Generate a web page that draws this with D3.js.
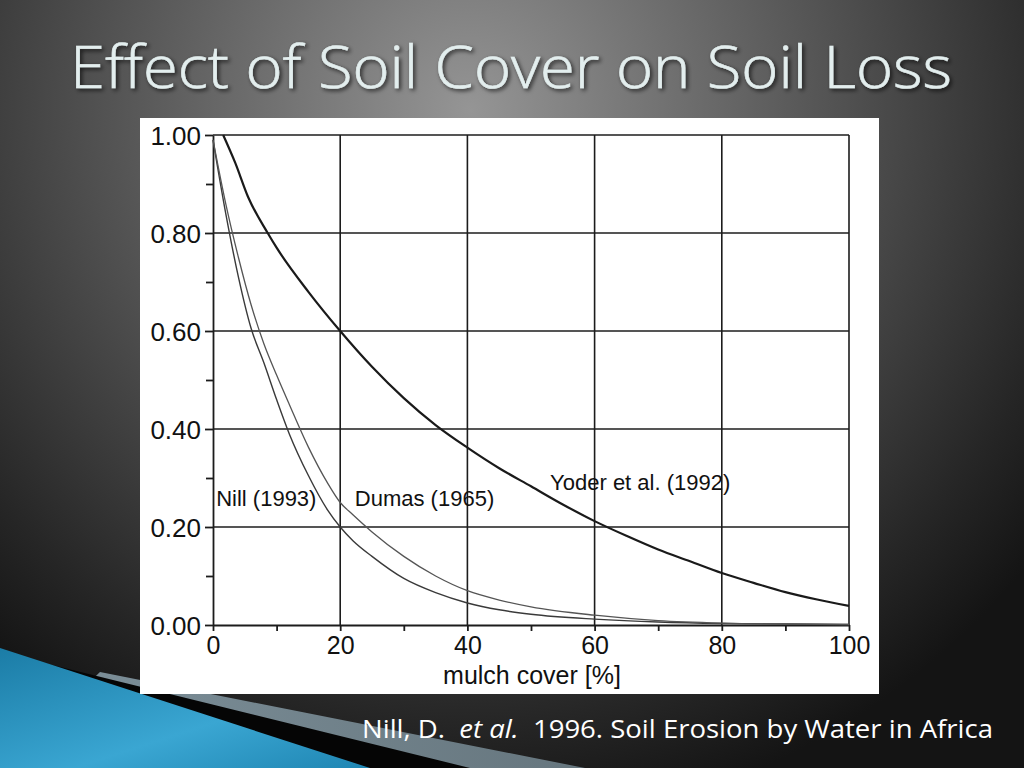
<!DOCTYPE html>
<html><head><meta charset="utf-8">
<script src="https://cdn.jsdelivr.net/npm/d3@7"></script>
<style>html,body{margin:0;padding:0;background:#222;}svg{display:block;}
.ttl{font-feature-settings:"liga" 0,"clig" 0;font-variant-ligatures:none;}</style>
</head><body>
<svg id="c" width="1024" height="768"></svg>
<script>
// ---- data ----
const titleText = "Effect of Soil Cover on Soil Loss";
const xLabel = "mulch cover [%]";
const xTicks = [0, 20, 40, 60, 80, 100];
const xMinor = [10, 30, 50, 70, 90];
const yTicks = [0, 0.2, 0.4, 0.6, 0.8, 1.0];
const yMinor = [0.1, 0.3, 0.5, 0.7, 0.9];

const yoderX = [1.6, 3.5, 5.5, 8.6, 10, 15, 20, 25, 30, 35, 40, 45, 50, 55, 60, 65, 70, 75, 80, 85, 90, 95, 100];
const yoderY = [1.0, 0.943, 0.874, 0.8, 0.77, 0.68, 0.60, 0.527, 0.463, 0.408, 0.362, 0.32, 0.283, 0.246, 0.212, 0.182, 0.154, 0.13, 0.106, 0.086, 0.067, 0.052, 0.039];

const coverX = [0, 2, 4, 6, 8, 10, 12, 15, 18, 20, 22, 25, 30, 35, 40, 45, 50, 60, 70, 80, 90, 100];
const nillY  = [0.99, 0.84, 0.71, 0.605, 0.535, 0.46, 0.39, 0.305, 0.235, 0.2, 0.172, 0.14, 0.095, 0.066, 0.045, 0.031, 0.022, 0.012, 0.006, 0.003, 0.002, 0.001];
const dumasY = [0.99, 0.86, 0.75, 0.653, 0.574, 0.51, 0.45, 0.363, 0.29, 0.25, 0.225, 0.19, 0.14, 0.1, 0.07, 0.051, 0.037, 0.02, 0.009, 0.004, 0.002, 0.001];

const seriesLabels = ["Nill (1993)", "Dumas (1965)", "Yoder et al. (1992)"];
const labelX = [0.5, 22.3, 53];
const labelY = [0.243, 0.243, 0.276];

// ---- drawing ----
const svg = d3.select("#c");
const defs = svg.append("defs");
const bg = defs.append("radialGradient").attr("id", "bg")
  .attr("gradientUnits", "userSpaceOnUse").attr("cx", 470).attr("cy", 110).attr("r", 720);
bg.append("stop").attr("offset", 0).attr("stop-color", "#959595");
bg.append("stop").attr("offset", 0.45).attr("stop-color", "#5a5a5a");
bg.append("stop").attr("offset", 0.85).attr("stop-color", "#262626");
bg.append("stop").attr("offset", 1).attr("stop-color", "#141414");
const blue = defs.append("linearGradient").attr("id", "blue")
  .attr("x1", 0).attr("y1", 0).attr("x2", 1).attr("y2", 1);
blue.append("stop").attr("offset", 0).attr("stop-color", "#1b7ca6");
blue.append("stop").attr("offset", 0.6).attr("stop-color", "#3aa6d2");
blue.append("stop").attr("offset", 1).attr("stop-color", "#1f86b3");
const band = defs.append("linearGradient").attr("id", "band")
  .attr("x1", 0).attr("y1", 0).attr("x2", 1).attr("y2", 0);
band.append("stop").attr("offset", 0).attr("stop-color", "#7f929c");
band.append("stop").attr("offset", 1).attr("stop-color", "#66767e");
const sh = defs.append("filter").attr("id", "sh").attr("x", "-5%").attr("y", "-20%").attr("width", "110%").attr("height", "140%");
sh.append("feDropShadow").attr("dx", 2).attr("dy", 2).attr("stdDeviation", 2).attr("flood-color", "#000").attr("flood-opacity", 0.7);

svg.append("rect").attr("width", 1024).attr("height", 768).attr("fill", "url(#bg)");

// bottom-left decoration
svg.append("polygon").attr("points", "100,672 585,768 0,768").attr("fill", "url(#band)");
svg.append("polygon").attr("points", "40,662 470,768 0,768").attr("fill", "#050505");
svg.append("polygon").attr("points", "0,648 370,768 0,768").attr("fill", "url(#blue)");

// title
svg.append("text").attr("class", "ttl").attr("x", 70).attr("y", 88)
  .attr("font-family", "'Open Sans', Lato, sans-serif").attr("font-size", 58).attr("font-weight", 300)
  .attr("fill", "#e3eeee").attr("stroke", "#e3eeee").attr("stroke-width", 0.6)
  .attr("textLength", 882).attr("lengthAdjust", "spacingAndGlyphs")
  .attr("filter", "url(#sh)").text(titleText);

// caption
const cap = svg.append("text").attr("x", 362).attr("y", 738)
  .attr("font-family", "'Open Sans', Lato, sans-serif").attr("font-size", 25)
  .style("white-space", "pre")
  .attr("fill", "#ffffff").attr("textLength", 631).attr("lengthAdjust", "spacingAndGlyphs");
cap.append("tspan").text("Nill, D.  ");
cap.append("tspan").attr("font-style", "italic").text("et al.");
cap.append("tspan").text("  1996. Soil Erosion by Water in Africa");

// white panel
svg.append("rect").attr("x", 140).attr("y", 118).attr("width", 739).attr("height", 576).attr("fill", "#ffffff");

const x = d3.scaleLinear().domain([0, 100]).range([213, 849]);
const y = d3.scaleLinear().domain([0, 1]).range([625, 135]);
const ink = "#1c1c1c";
const font = "'Liberation Sans', Arial, sans-serif";

const g = svg.append("g");
// grid
g.selectAll(".gx").data(xTicks.slice(1)).join("line")
  .attr("x1", d => x(d)).attr("x2", d => x(d)).attr("y1", y(0)).attr("y2", y(1))
  .attr("stroke", ink).attr("stroke-width", 1.6);
g.selectAll(".gy").data(yTicks.slice(1)).join("line")
  .attr("y1", d => y(d)).attr("y2", d => y(d)).attr("x1", x(0)).attr("x2", x(100))
  .attr("stroke", ink).attr("stroke-width", 1.6);

// axes
const xAxis = d3.axisBottom(x).tickValues(xTicks).tickSize(6).tickSizeOuter(0).tickPadding(2).tickFormat(d3.format("d"));
const xAx = g.append("g").attr("transform", `translate(0,${y(0)})`).call(xAxis);
const xMin = d3.axisBottom(x).tickValues(xMinor).tickSize(6).tickFormat("");
g.append("g").attr("transform", `translate(0,${y(0)})`).call(xMin).select(".domain").remove();
const yAxis = d3.axisLeft(y).tickValues(yTicks).tickSize(8).tickSizeOuter(0).tickPadding(4).tickFormat(d3.format(".2f"));
const yAx = g.append("g").attr("transform", `translate(${x(0)},0)`).call(yAxis);
const yMin = d3.axisLeft(y).tickValues(yMinor).tickSize(7).tickFormat("");
g.append("g").attr("transform", `translate(${x(0)},0)`).call(yMin).select(".domain").remove();
svg.selectAll(".domain, .tick line").attr("stroke", ink).attr("stroke-width", 1.8);
svg.selectAll(".tick text").attr("font-family", font).attr("font-size", 25).attr("fill", "#111");
yAx.selectAll(".tick text").attr("font-size", 26).attr("dy", "0.36em");
xAx.selectAll(".tick text").attr("dy", "0.82em");

svg.append("text").attr("x", 532).attr("y", 684).attr("text-anchor", "middle")
  .attr("font-family", font).attr("font-size", 25).attr("fill", "#111").text(xLabel);

// curves
const line = d3.line().x(d => x(d[0])).y(d => y(d[1])).curve(d3.curveMonotoneX);
const nill = coverX.map((v, i) => [v, nillY[i]]);
const dumas = coverX.map((v, i) => [v, dumasY[i]]);
const yoder = yoderX.map((v, i) => [v, yoderY[i]]);
g.append("path").attr("d", line(nill)).attr("fill", "none").attr("stroke", "#3a3a3a").attr("stroke-width", 1.4);
g.append("path").attr("d", line(dumas)).attr("fill", "none").attr("stroke", "#555").attr("stroke-width", 1.3);
g.append("path").attr("d", line(yoder)).attr("fill", "none").attr("stroke", "#1a1a1a").attr("stroke-width", 2.2);

// series labels
g.selectAll(".lab").data(seriesLabels).join("text")
  .attr("x", (d, i) => x(labelX[i])).attr("y", (d, i) => y(labelY[i]))
  .attr("font-family", font).attr("font-size", 22).attr("fill", "#111").text(d => d);
</script>
</body></html>
